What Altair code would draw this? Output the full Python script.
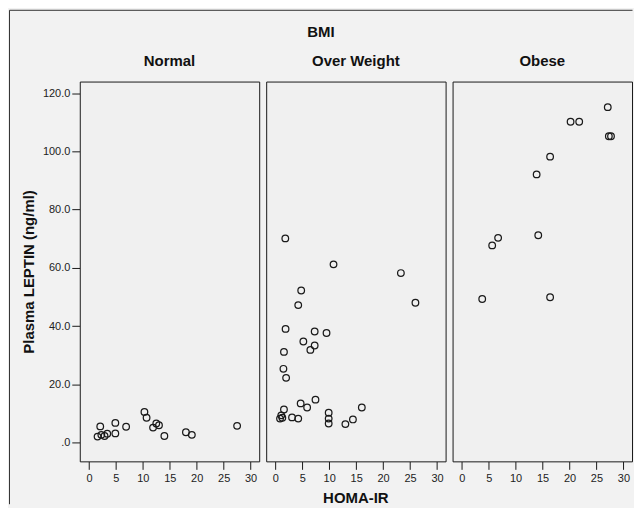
import altair as alt
import pandas as pd

# ---- data ----
groups = ["Normal", "Over Weight", "Obese"]

normal_homa = [1.6, 2.1, 2.3, 2.9, 3.4, 4.9, 4.9, 6.9, 10.3, 10.7, 11.9, 12.5, 13.0, 14.0, 18.0, 19.1, 27.5]
normal_leptin = [2.0, 5.5, 2.6, 2.2, 3.0, 6.7, 3.1, 5.4, 10.5, 8.5, 5.1, 6.5, 5.9, 2.2, 3.5, 2.6, 5.7]

over_homa = [1.85, 10.8, 4.8, 23.3, 26.0, 4.25, 1.9, 7.3, 9.5, 5.2, 7.3, 6.5, 1.6, 1.5, 2.0,
             7.45, 4.7, 5.9, 16.05, 1.6, 9.9, 1.1, 0.87, 1.3, 3.1, 4.25, 9.9, 9.9, 13.0, 14.4]
over_leptin = [70.1, 61.2, 52.2, 58.2, 48.0, 47.2, 39.0, 38.1, 37.6, 34.7, 33.3, 31.8, 31.1, 25.3, 22.2,
               14.7, 13.4, 12.0, 12.0, 11.3, 10.2, 9.3, 8.2, 8.5, 8.6, 8.2, 8.2, 6.5, 6.3, 7.9]

obese_homa = [27.1, 20.2, 21.8, 27.3, 27.7, 16.4, 13.9, 14.2, 6.75, 5.65, 3.8, 16.4]
obese_leptin = [115.2, 110.2, 110.2, 105.2, 105.2, 98.2, 92.1, 71.2, 70.3, 67.7, 49.3, 49.9]

x_ticks = [0, 5, 10, 15, 20, 25, 30]
y_ticks = [0, 20, 40, 60, 80, 100, 120]
x_domain = [-1.7, 31.6]
y_domain = [-6.5, 124]
x_title = "HOMA-IR"
y_title = "Plasma LEPTIN (ng/ml)"
facet_title = "BMI"

homa_by_group = [normal_homa, over_homa, obese_homa]
leptin_by_group = [normal_leptin, over_leptin, obese_leptin]

df = pd.concat(
    [pd.DataFrame({"homa": h, "leptin": l, "bmi": g})
     for g, h, l in zip(groups, homa_by_group, leptin_by_group)],
    ignore_index=True,
)

FONT = "Liberation Sans"
PW, PH = 180, 381
SPACING = 7
TOTAL_W = 626
LEFT = 71

base = alt.Chart(df)

pts = base.mark_point(
    shape="circle", filled=False, size=44, stroke="#1a1a1a", strokeWidth=1.25, opacity=1
).encode(
    x=alt.X("homa:Q", title=None,
            scale=alt.Scale(domain=x_domain, nice=False, zero=False),
            axis=alt.Axis(values=x_ticks, format="d", tickSize=8, labelPadding=3, domain=False)),
    y=alt.Y("leptin:Q", title=y_title,
            scale=alt.Scale(domain=y_domain, nice=False, zero=False),
            axis=alt.Axis(values=y_ticks,
                          labelExpr="datum.value == 0 ? '.0' : format(datum.value, '.1f')",
                          tickSize=8, labelPadding=2, titlePadding=6, domain=False)),
)

# outer frame lines of the figure, drawn only in the first panel
frame_src = base.transform_filter("datum.bmi == 'Normal'").transform_aggregate(
    n="count()", groupby=["bmi"]
)
left_rule = frame_src.mark_rule(color="#333333", strokeWidth=1).encode(
    x=alt.value(-70.5), y=alt.value(-71.5), y2=alt.value(424)
)
top_rule = frame_src.mark_rule(color="#333333", strokeWidth=1).encode(
    x=alt.value(-70.5), x2=alt.value(TOTAL_W - LEFT - 0.5), y=alt.value(-71.5)
)

# the shared x-axis title, written once under the middle panel
x_title_text = base.transform_filter("datum.bmi == 'Over Weight'").transform_aggregate(
    n="count()", groupby=["bmi"]
).mark_text(
    text=x_title, font=FONT, fontSize=15, fontWeight="bold", color="#111111",
    align="center", baseline="middle"
).encode(x=alt.value(PW / 2), y=alt.value(PH + 37))

chart = alt.layer(pts, left_rule, top_rule, x_title_text).properties(
    width=PW, height=PH
).facet(
    column=alt.Column(
        "bmi:N", sort=groups,
        header=alt.Header(title=facet_title, titleFont=FONT, titleFontSize=15, titleFontWeight="bold",
                          titleColor="#111111", titlePadding=4,
                          labelFont=FONT, labelFontSize=15, labelFontWeight="bold",
                          labelColor="#111111", labelPadding=13),
    ),
    spacing=SPACING,
    bounds="flush",
).properties(
    padding=0, background="#f2f2f2"
).configure_view(
    stroke="#1a1a1a", strokeWidth=1, fill="#f0f0f0"
).configure_axis(
    labelFont=FONT, labelFontSize=11, labelColor="#222222",
    titleFont=FONT, titleFontSize=15, titleFontWeight="bold", titleColor="#111111",
    tickColor="#1a1a1a", grid=False,
)

chart.save("out.html", embed_options={"renderer": "svg", "actions": False})
